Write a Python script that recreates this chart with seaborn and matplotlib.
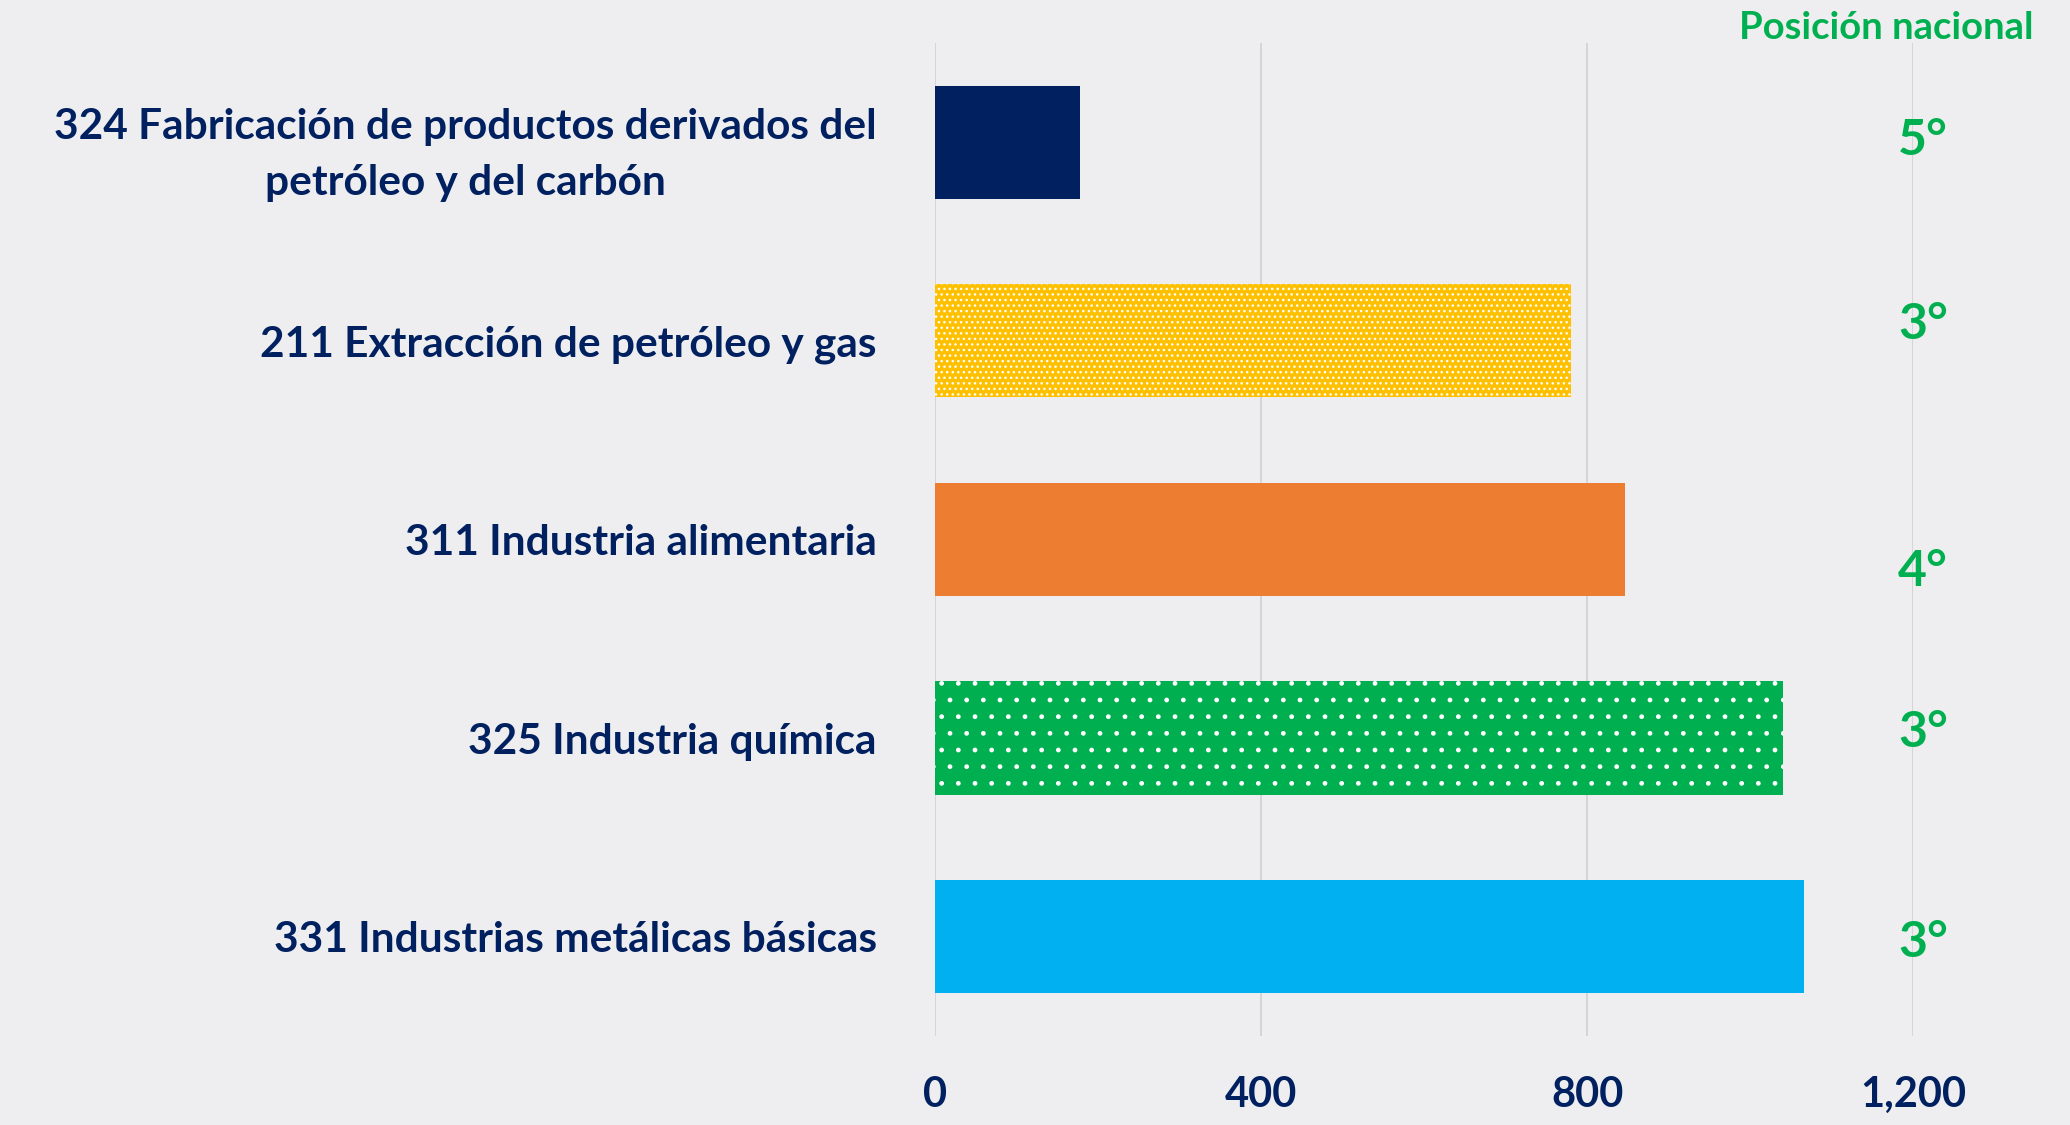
import matplotlib.pyplot as plt
import seaborn as sns
import pandas as pd

# Categories (top to bottom) and values
categories = ['324 Fabricación de productos derivados del\npetróleo y del carbón',
              '211 Extracción de petróleo y gas',
              '311 Industria alimentaria',
              '325 Industria química',
              '331 Industrias metálicas básicas']
values = [178, 780, 847, 1041, 1066]
ranks = ['5°', '3°', '4°', '3°', '3°']
xticks = [0, 400, 800, 1200]
xtick_labels = ['0', '400', '800', '1,200']

colors = ['#002060', '#FFC000', '#ED7D31', '#00B050', '#00B0F0']
hatches = [None, '...', None, '.', None]
rank_offsets = [-0.01, -0.08, 0.16, -0.03, 0.03]

navy = '#002060'
green = '#00B050'

df = pd.DataFrame({'Sector': categories, 'Valor': values})

sns.set_style('white')
plt.rcParams['font.family'] = ['Lato', 'DejaVu Sans']
plt.rcParams['font.weight'] = 'bold'
plt.rcParams['hatch.linewidth'] = 1.0

fig = plt.figure(figsize=(20.7, 11.25), dpi=100, facecolor='#eeeef0')
ax = fig.add_axes([0.4517, 0.0791, 0.4725, 0.8827])
ax.set_facecolor('none')

sns.barplot(data=df, y='Sector', x='Valor', hue='Sector', palette=colors,
            width=0.57, legend=False, ax=ax, saturation=1)

for patch, h in zip(ax.patches, hatches):
    patch.set_linewidth(0)
    if h:
        patch.set_edgecolor('white')
        patch.set_hatch(h)

ax.set_xlim(0, 1200)
ax.set_ylim(4.5, -0.5)
ax.set_xticks(xticks)
ax.set_xticklabels(xtick_labels)
ax.xaxis.grid(True, color='#d0d0d0', linewidth=1.2)
ax.set_axisbelow(True)
for s in ax.spines.values():
    s.set_visible(False)

ax.tick_params(axis='x', length=0, pad=29, labelsize=30, labelcolor=navy)
ax.tick_params(axis='y', length=0, pad=42, labelsize=30.5, labelcolor=navy)
for lbl in ax.get_yticklabels():
    lbl.set_multialignment('center')
    lbl.set_linespacing(1.6)
    lbl.set_fontweight('bold')
for lbl in ax.get_xticklabels():
    lbl.set_fontweight('bold')
ax.set_xlabel('')
ax.set_ylabel('')

# National position labels
for i, (r, off) in enumerate(zip(ranks, rank_offsets)):
    ax.text(1212, i + off, r, ha='center', va='center', fontsize=36,
            fontweight='bold', color=green, clip_on=False)

fig.text(0.911, 0.975, 'Posición nacional', ha='center', va='center',
         fontsize=27.5, fontweight='bold', color=green)

fig.savefig('out.png', dpi=100, facecolor=fig.get_facecolor())
